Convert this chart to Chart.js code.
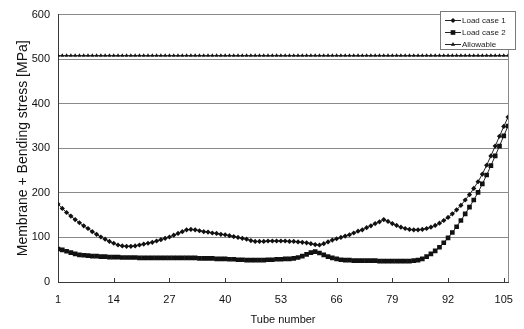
<!DOCTYPE html>
<html>
<head>
<meta charset="utf-8">
<script src="https://cdn.jsdelivr.net/npm/chart.js@4/dist/chart.umd.min.js"></script>
<style>
  html, body { margin: 0; padding: 0; background: #fff; }
  canvas { display: block; }
</style>
</head>
<body>
<canvas id="chart" width="524" height="329"></canvas>
<script>
// Tube numbers along the header row
const tubeCount = 106;
const tubeNumbers = Array.from({ length: tubeCount }, (_, i) => i + 1);
const xTickValues = [1, 14, 27, 40, 53, 66, 79, 92, 105];

// Membrane + bending stress per tube [MPa]
const loadCase1 = [
  175, 165, 156, 148, 140, 133, 126, 120, 113, 107,
  101, 96, 91, 87, 83, 81, 80, 80, 81, 83,
  85, 87, 89, 92, 95, 98, 101, 105, 109, 113,
  117, 118, 117, 115, 113, 112, 110, 109, 107, 106,
  104, 102, 100, 98, 96, 93, 91, 91, 91, 92,
  92, 92, 92, 92, 91, 91, 90, 89, 88, 86,
  84, 83, 86, 90, 94, 97, 100, 103, 106, 110,
  114, 117, 122, 126, 131, 135, 140, 136, 131, 127,
  123, 120, 118, 117, 117, 118, 120, 123, 127, 132,
  138, 145, 153, 162, 172, 184, 196, 210, 225, 242,
  262, 283, 305, 327, 349, 370
];
const loadCase2 = [
  74, 72, 69, 66, 63, 61, 60, 59, 58, 58,
  57, 57, 56, 56, 56, 55, 55, 55, 55, 54,
  54, 54, 54, 54, 54, 54, 54, 54, 54, 54,
  54, 54, 54, 53, 53, 53, 53, 52, 52, 52,
  51, 51, 50, 50, 49, 49, 49, 49, 49, 50,
  50, 51, 51, 52, 52, 53, 55, 58, 62, 66,
  68, 65, 61, 57, 54, 52, 50, 49, 49, 48,
  48, 48, 48, 48, 48, 47, 47, 47, 47, 47,
  47, 47, 47, 48, 49, 52, 57, 63, 70, 78,
  88, 99, 111, 124, 138, 153, 168, 184, 201, 220,
  240, 261, 283, 305, 328, 350
];
const allowableStress = 508;
const allowable = tubeNumbers.map(() => allowableStress);

const seriesNames = ['Load case 1', 'Load case 2', 'Allowable'];
const axisTitleY = 'Membrane + Bending stress [MPa]';
const axisTitleX = 'Tube number';

const FONT = '"Liberation Sans", Arial, sans-serif';
const GRID = '#8a8a8a';
const AXIS = '#3a3a3a';

const toPoints = values => values.map((v, i) => ({ x: tubeNumbers[i], y: v }));

const seriesStyle = [
  { pointStyle: 'rectRot', radius: 2.6 },
  { pointStyle: 'rect', radius: 3.3 },
  { pointStyle: 'triangle', radius: 2.4 }
];

// Right border of the plot and inward tick marks on the category axis
const framePlugin = {
  id: 'frame',
  beforeDatasetsDraw(chart) {
    const { ctx, chartArea: a, scales: { x } } = chart;
    ctx.save();
    ctx.lineWidth = 1;
    ctx.strokeStyle = GRID;
    ctx.beginPath();
    const r = Math.round(a.right) + 0.5;
    ctx.moveTo(r, a.top);
    ctx.lineTo(r, a.bottom);
    ctx.stroke();
    ctx.strokeStyle = AXIS;
    ctx.beginPath();
    x.ticks.forEach(t => {
      const px = Math.round(x.getPixelForValue(t.value)) + 0.5;
      ctx.moveTo(px, a.bottom);
      ctx.lineTo(px, a.bottom - 4);
    });
    ctx.stroke();
    ctx.restore();
  }
};

// Boxed legend in the upper right corner of the plot
const boxLegendPlugin = {
  id: 'boxLegend',
  afterDraw(chart) {
    const { ctx } = chart;
    const box = { x: 440.5, y: 11.5, w: 75, h: 38 };
    ctx.save();
    ctx.fillStyle = '#fff';
    ctx.fillRect(box.x, box.y, box.w, box.h);
    ctx.strokeStyle = '#7a7a7a';
    ctx.lineWidth = 1;
    ctx.strokeRect(box.x, box.y, box.w, box.h);
    ctx.font = '8px ' + FONT;
    ctx.textBaseline = 'middle';
    ctx.textAlign = 'left';
    chart.data.datasets.forEach((ds, i) => {
      const y = Math.round(box.y + 8.5 + i * 12) + 0.5;
      ctx.strokeStyle = '#222';
      ctx.beginPath();
      ctx.moveTo(445, y);
      ctx.lineTo(461, y);
      ctx.stroke();
      ctx.fillStyle = '#111';
      Chart.helpers.drawPoint(ctx, {
        pointStyle: ds.pointStyle, radius: ds.pointRadius, rotation: 0, borderWidth: 0
      }, 453, y);
      ctx.fillStyle = '#222';
      ctx.fillText(ds.label, 462, y + 0.5);
    });
    ctx.restore();
  }
};

new Chart(document.getElementById('chart'), {
  type: 'line',
  data: {
    datasets: [loadCase1, loadCase2, allowable].map((values, i) => ({
      label: seriesNames[i],
      data: toPoints(values),
      borderColor: '#222',
      borderWidth: 1,
      backgroundColor: '#111',
      pointStyle: seriesStyle[i].pointStyle,
      pointRadius: seriesStyle[i].radius,
      pointBackgroundColor: '#111',
      pointBorderWidth: 0,
      tension: 0,
      fill: false
    }))
  },
  options: {
    responsive: false,
    animation: false,
    events: [],
    layout: { padding: { top: 13, right: 6, left: 0, bottom: 0 } },
    plugins: {
      legend: { display: false },
      tooltip: { enabled: false }
    },
    scales: {
      x: {
        type: 'linear',
        min: 1,
        max: 106,
        afterBuildTicks: scale => { scale.ticks = xTickValues.map(v => ({ value: v })); },
        afterFit: scale => { scale.height = 47; },
        grid: { drawOnChartArea: false, drawTicks: false },
        border: { color: AXIS, width: 1 },
        ticks: {
          autoSkip: false, maxRotation: 0, padding: 11,
          color: '#111', font: { family: FONT, size: 11 },
          callback: v => String(v)
        },
        title: {
          display: true, text: axisTitleX, color: '#111',
          font: { family: FONT, size: 11 }, padding: { top: 0, bottom: 2 }
        }
      },
      y: {
        min: 0,
        max: 600,
        afterFit: scale => { scale.width = 58; },
        grid: { color: GRID, drawTicks: false },
        border: { color: AXIS, width: 1 },
        ticks: {
          stepSize: 100, padding: 8,
          color: '#111', font: { family: FONT, size: 11 }
        },
        title: {
          display: true, text: axisTitleY, color: '#111',
          font: { family: FONT, size: 14 }, padding: { top: 15, bottom: 0 }
        }
      }
    }
  },
  plugins: [framePlugin, boxLegendPlugin]
});
</script>
</body>
</html>
